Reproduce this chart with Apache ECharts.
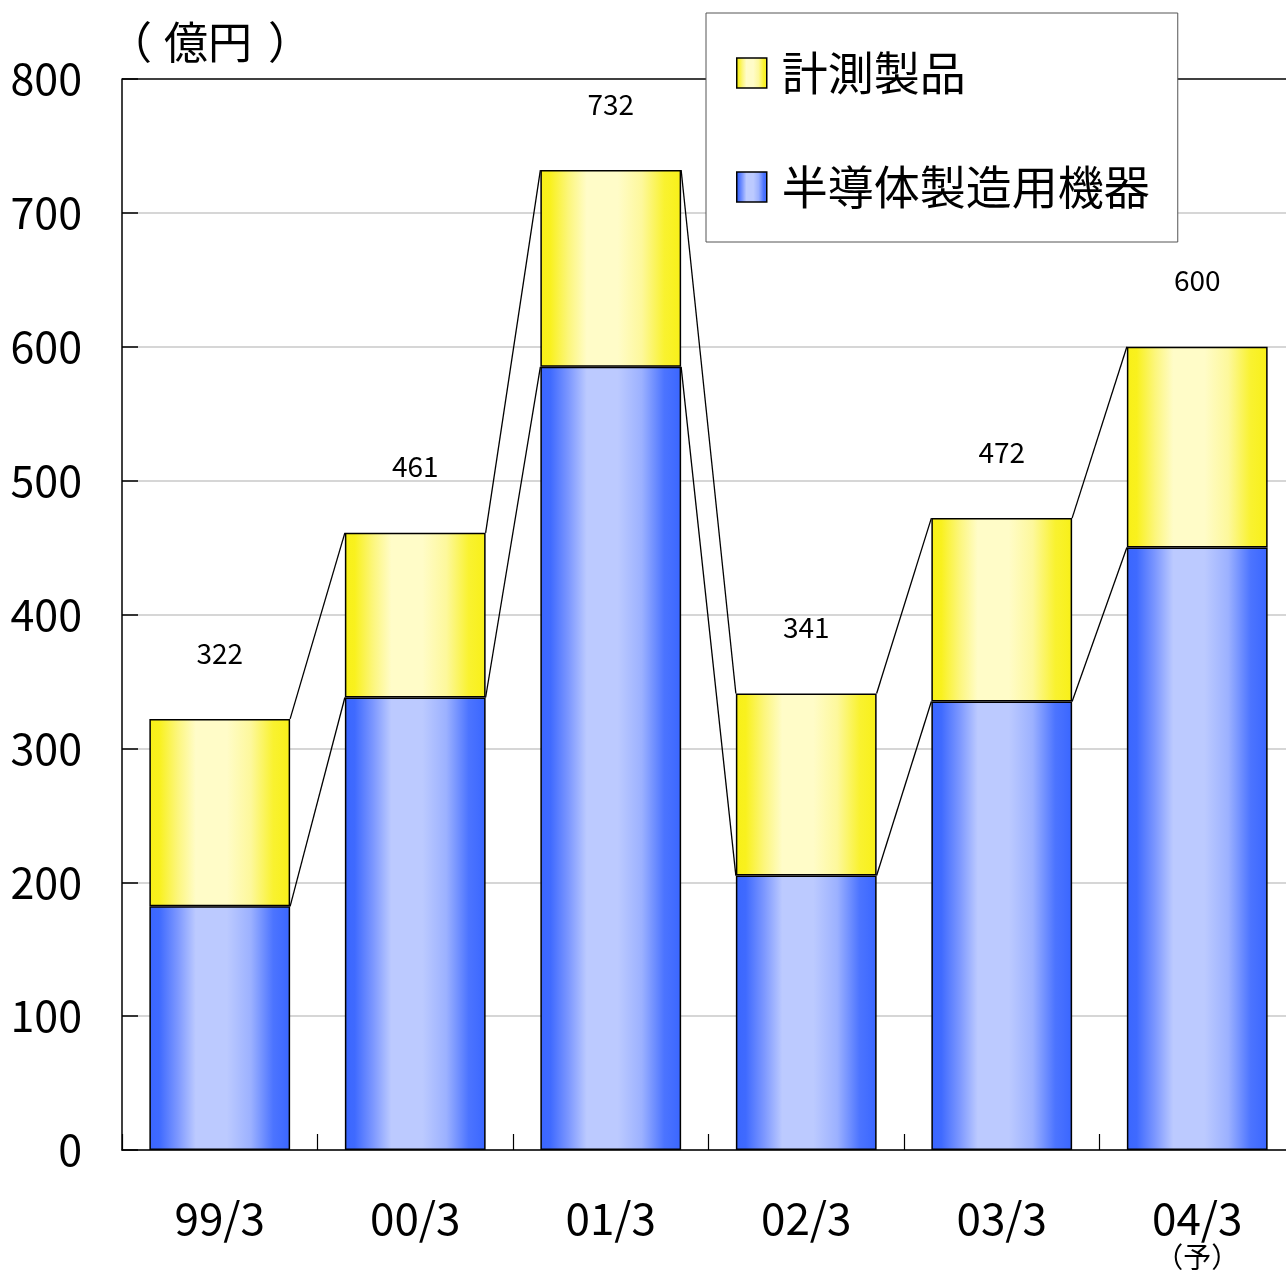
<!DOCTYPE html>
<html><head><meta charset="utf-8">
<script src="https://cdn.jsdelivr.net/npm/echarts@6/dist/echarts.min.js"></script>
<style>html,body{margin:0;padding:0;background:#fff;overflow:hidden}
#wrap{position:relative;width:1286px;height:1274px;overflow:hidden}
#c{position:absolute;left:0;top:0;width:1295px;height:1274px}</style>
</head><body><div id="wrap"><div id="c"></div></div>
<script>
const categories = ['99/3', '00/3', '01/3', '02/3', '03/3', '04/3'];
const semiconductorEquip = [182, 338, 585, 205, 335, 450];
const totals = [322, 461, 732, 341, 472, 600];
const measurement = [140, 123, 147, 136, 137, 150];
const yTicks = [0, 100, 200, 300, 400, 500, 600, 700, 800];
const unitParts = ['（', '億円', '）'];
const forecastNote = '（予）';
const seriesNames = ['計測製品', '半導体製造用機器'];

const FONT = '"Noto Sans CJK JP", "Noto Sans", sans-serif';
const BAR_RATIO = 0.72;

const blueGrad = {type:'linear', x:0, y:0, x2:1, y2:0, colorStops:[
  {offset:0, color:'#3a66ff'}, {offset:0.07, color:'#3f6aff'}, {offset:0.2, color:'#7c97ff'},
  {offset:0.33, color:'#bccaff'}, {offset:0.55, color:'#bccaff'}, {offset:0.72, color:'#9cb1ff'},
  {offset:0.88, color:'#4c74ff'}, {offset:1, color:'#3a66ff'}]};
const yellowGrad = {type:'linear', x:0, y:0, x2:1, y2:0, colorStops:[
  {offset:0, color:'#f8f018'}, {offset:0.07, color:'#f9f11e'}, {offset:0.2, color:'#fcf67c'},
  {offset:0.33, color:'#fffcc8'}, {offset:0.55, color:'#fffcc8'}, {offset:0.72, color:'#fdf89c'},
  {offset:0.88, color:'#f9f230'}, {offset:1, color:'#f8f018'}]};

const linkData = [];
for (let i = 0; i < categories.length - 1; i++) {
  linkData.push([i, semiconductorEquip[i], totals[i], semiconductorEquip[i+1], totals[i+1]]);
}

const chart = echarts.init(document.getElementById('c'));
chart.setOption({
  animation: false,
  backgroundColor: '#fff',
  textStyle: {fontFamily: FONT},
  grid: {left: 122, top: 79, right: 0, bottom: 119, containLabel: false},
  graphic: [{type:'text', left: 108, top: 20, style:{
    text: '{a|' + unitParts[0] + '}{t|' + unitParts[1] + '}{b|' + unitParts[2] + '}',
    rich: {
      a: {fontSize: 44, fontFamily: FONT, fill:'#000', padding:[0, 12, 0, 0]},
      t: {fontSize: 44, fontFamily: FONT, fill:'#000'},
      b: {fontSize: 44, fontFamily: FONT, fill:'#000', padding:[0, 0, 0, 16]}
    }
  }}],
  legend: {
    orient: 'vertical', left: 706, top: 13,
    backgroundColor: '#fff', borderColor: '#555', borderWidth: 1,
    padding: [36, 28, 31, 30], itemGap: 66, itemWidth: 30, itemHeight: 30,
    icon: 'rect',
    data: [
      {name: seriesNames[0], itemStyle:{color: yellowGrad, borderColor:'#000', borderWidth:1.5}},
      {name: seriesNames[1], itemStyle:{color: blueGrad, borderColor:'#000', borderWidth:1.5}}
    ],
    textStyle: {fontSize: 46, fontFamily: FONT, color:'#000', padding:[0,0,0,10], lineHeight: 48}
  },
  xAxis: {
    type: 'category', data: categories, boundaryGap: true,
    axisLine: {lineStyle:{color:'#000', width:1.5}},
    axisTick: {show: true, interval: 0, inside: true, length: 16, lineStyle:{color:'#000', width:1.2}},
    axisLabel: {
      interval: 0, margin: 46, color:'#000', fontSize: 44, fontFamily: FONT,
      formatter: function(v, i){ return i === categories.length - 1 ? v + '\n{s|' + forecastNote + '}' : v; },
      rich: {s: {fontSize: 28, fontFamily: FONT, lineHeight: 34}},
      lineHeight: 44
    }
  },
  yAxis: {
    type: 'value', min: 0, max: 800, interval: 100,
    axisLine: {show: true, lineStyle:{color:'#000', width:1.5}},
    axisTick: {show: true, inside: true, length: 16, lineStyle:{color:'#000', width:1.5}},
    axisLabel: {margin: 40, color:'#000', fontSize: 43, fontFamily: FONT,
      formatter: function(v){ return yTicks.indexOf(v) >= 0 ? String(v) : ''; }},
    splitLine: {show: true, lineStyle:{color: ['#c8c8c8','#c8c8c8','#c8c8c8','#c8c8c8','#c8c8c8','#c8c8c8','#c8c8c8','#c8c8c8','#000'], width: 1.5}}
  },
  series: [
    {
      name: seriesNames[1], type: 'bar', stack: 'total', barWidth: (BAR_RATIO*100)+'%',
      data: semiconductorEquip,
      itemStyle: {color: blueGrad, borderColor:'#000', borderWidth:1.5}
    },
    {
      name: seriesNames[0], type: 'bar', stack: 'total', barWidth: (BAR_RATIO*100)+'%',
      data: measurement,
      itemStyle: {color: yellowGrad, borderColor:'#000', borderWidth:1.5},
      label: {show: true, position: 'top', distance: 52, color:'#000', fontSize: 28, fontFamily: FONT,
        formatter: function(p){ return String(totals[p.dataIndex]); }}
    },
    {
      type: 'custom', data: linkData, encode: {x: 0, y: 1}, z: 3, silent: true,
      renderItem: function(params, api) {
        const i = api.value(0);
        const half = api.size([1, 0])[0] * BAR_RATIO / 2;
        const a1 = api.coord([i, api.value(1)]), b1 = api.coord([i+1, api.value(3)]);
        const a2 = api.coord([i, api.value(2)]), b2 = api.coord([i+1, api.value(4)]);
        const st = {stroke:'#000', lineWidth: 1.3};
        return {type:'group', children:[
          {type:'line', shape:{x1:a1[0]+half, y1:a1[1], x2:b1[0]-half, y2:b1[1]}, style: st},
          {type:'line', shape:{x1:a2[0]+half, y1:a2[1], x2:b2[0]-half, y2:b2[1]}, style: st}
        ]};
      }
    }
  ]
});
</script></body></html>
